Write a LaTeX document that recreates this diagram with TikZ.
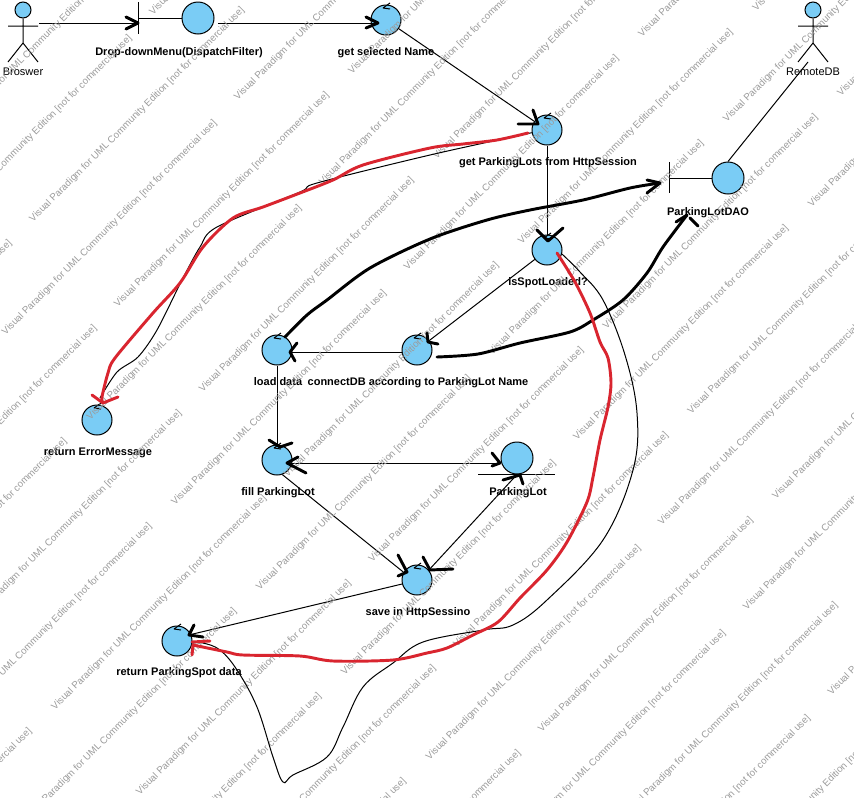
\documentclass[tikz,border=0pt]{standalone}
\usepackage{fontspec}
\setmainfont{Liberation Sans}
\definecolor{vpblue}{RGB}{122,204,245}
\definecolor{vpred}{RGB}{217,37,47}
\definecolor{vpgray}{RGB}{155,155,155}
\tikzset{
  ctrlnode/.style={circle,draw,fill=vpblue,minimum size=22.5pt,inner sep=0pt,line width=0.75pt},
  bndnode/.style={circle,draw,fill=vpblue,minimum size=24pt,inner sep=0pt,line width=0.75pt},
  headnode/.style={circle,draw,fill=vpblue,minimum size=12pt,inner sep=0pt,line width=0.75pt},
  boldtxt/.style={anchor=base,inner sep=0.75pt,font=\fontsize{8.25}{10}\selectfont\bfseries},
  plaintxt/.style={anchor=base,inner sep=0.75pt,font=\fontsize{8.25}{10}\selectfont},
  marktxt/.style={anchor=base west,inner sep=0pt,rotate=45,text=vpgray,font=\fontsize{7.3}{9}\selectfont},
  thinline/.style={line width=0.75pt},
  penblack/.style={line width=2.2pt,line cap=round,line join=round},
  penred/.style={line width=2.2pt,line cap=round,line join=round,draw=vpred},
}
\begin{document}
\begin{tikzpicture}[x=0.75pt,y=0.75pt,yscale=-1,xscale=1]
\useasboundingbox (0,0) rectangle (854,797);
\clip (0,0) rectangle (854,797);

%Shape: Actor Broswer
\node[headnode] (brohead) at (23,10) {};
\draw[thinline] (brohead) -- (23,43) -- (8,62) (23,43) -- (38,62) (8,26) -- (38,26);
% Text Node
\node[plaintxt] (brotxt) at (23,75) {Broswer};
%Shape: Actor RemoteDB
\node[headnode] (dbhead) at (813,10) {};
\draw[thinline] (dbhead) -- (813,43) -- (798,62) (813,43) -- (828,62) (798,26) -- (828,26);
% Text Node
\node[plaintxt] (dbtxt) at (813,75) {RemoteDB};

%Shape: Boundary DispatchFilter
\node[bndnode] (drop) at (198,18) {};
\draw[thinline] (138,2) -- (138,34) (138,18) -- (drop);
%Shape: Boundary ParkingLotDAO
\node[bndnode] (dao) at (728,178) {};
\draw[thinline] (669,162) -- (669,193) (669,178) -- (dao);
%Shape: Entity ParkingLot
\node[bndnode] (lot) at (517,458) {};
\draw[thinline] (478,474) -- (555,474);

%Shape: Control nodes
\node[ctrlnode] (getname) at (386,20) {};
\node[ctrlnode] (getlots) at (547,130) {};
\node[ctrlnode] (isspot) at (547,250) {};
\node[ctrlnode] (load) at (277,350) {};
\node[ctrlnode] (conn) at (417,350) {};
\node[ctrlnode] (fill) at (277,460) {};
\node[ctrlnode] (save) at (417,580) {};
\node[ctrlnode] (retspot) at (177,641) {};
\node[ctrlnode] (reterr) at (97,420) {};
\foreach \n in {getname,getlots,isspot,load,conn,fill,save,retspot,reterr}
  \draw[thinline] ([shift={(-3,-12)}]\n.center) -- ++(7,-5) ([shift={(-3,-12)}]\n.center) -- ++(7,1);

% Text Node
\node[boldtxt] (droptxt) at (179,55) {Drop-downMenu(DispatchFilter)};
\node[boldtxt] (getnametxt) at (386,55) {get selected Name};
\node[boldtxt] (getlotstxt) at (548,165) {get ParkingLots from HttpSession};
\node[boldtxt] (daotxt) at (708,215) {ParkingLotDAO};
\node[boldtxt] (isspottxt) at (548,285) {isSpotLoaded?};
\node[boldtxt] (loadtxt) at (278,385) {load data};
\node[boldtxt] (conntxt) at (418,385) {connectDB according to ParkingLot Name};
\node[boldtxt] (filltxt) at (278,495) {fill ParkingLot};
\node[boldtxt] (lottxt) at (518,495) {ParkingLot};
\node[boldtxt] (savetxt) at (418,615) {save in HttpSessino};
\node[boldtxt] (retspottxt) at (179,675) {return ParkingSpot data};
\node[boldtxt] (reterrtxt) at (98,455) {return ErrorMessage};

%Connectors
\coordinate (broout) at (39,23);
\coordinate (dropin) at (138,23);
\coordinate (dropout) at (218,23);
\coordinate (getnamein) at (378,23);
\coordinate (dbfoot) at (808,62);
\coordinate (fillout) at (287,463);
\coordinate (lotin) at (499,463);
\draw[thinline] (broout) -- (dropin);
\draw[thinline] (dropout) -- (getnamein);
\draw[thinline] (getname) -- (getlots);
\draw[thinline] (getlots) -- (isspot);
\draw[thinline] (isspot) -- (conn);
\draw[thinline] (conn.188) -- (load.-8);
\draw[thinline] (load) -- (fill);
\draw[thinline] (fillout) -- (lotin);
\draw[thinline] (fill.-70) -- (save.150);
\draw[thinline] (save.40) -- (lot.south);
\draw[thinline] (save.195) -- (retspot.25);
\draw[thinline] (dao.north) -- (dbfoot);

%Watermark
\foreach \wx/\wy/\kmin/\kmax [count=\r] in {148/13/0/8,28/220/-1/8,347/72/0/5,637/35/0/2,836/94/-1/0,170/503/-3/5,50/708/-3/3,-319/481/2/6,-439/686/3/3}
  \foreach \k in {\kmin,...,\kmax}
    \node[marktxt] (wm\r-\k) at ({\wx+5+(\k)*84.8},{\wy+2.5+(\k)*85}) {Visual Paradigm for UML Community Edition [not for commercial use]};

%Pen: thin curves
\draw[thinline] plot [smooth,tension=0.5] coordinates {(getlots.190) (430,155) (317,183) (300,192) (217,227) (200,247) (182,280) (157,330) (138,357) (117,372) (100,398)};
\draw[thinline] plot [smooth,tension=0.6] coordinates {(isspot.-15) (580,272) (603,300) (625,355) (637,413) (633,470) (603,540) (547,600) (513,625) (483,630) (423,642) (393,663) (363,687) (343,727) (327,757) (293,775) (283,782) (273,757) (257,707) (237,670) (220,650) (203,643) (retspot.-8)};

%Pen: black arrows
\draw[penblack] plot [smooth,tension=0.5] coordinates {(285,337) (307,315) (327,300) (370,268) (430,239) (487,220) (530,210) (583,200) (630,188) (660,183)};
\draw[penblack] (647,180) -- (660,183) -- (647,193);
\draw[penblack] plot [smooth,tension=0.5] coordinates {(437,357) (478,354) (520,343) (570,332) (593,320) (623,300) (647,273) (663,247) (687,215)};
\draw[penblack] (676,222) -- (687,215) (690,218) -- (698,226);
\draw[penblack] (126,17) -- (138,23) -- (126,29);
\draw[penblack] (366,17) -- (378,23) -- (366,28);
\draw[penblack] (533,110) -- (538,124) -- (518,124);
\draw[penblack] (537,230) -- (548,241) -- (563,228);
\draw[penblack] (427,333) -- (428,342) -- (438,344);
\draw[penblack] (297,343) -- (290,352) -- (295,361);
\draw[penblack] (269,440) -- (280,447) -- (292,443);
\draw[penblack] (298,457) -- (287,463) -- (306,473);
\draw[penblack] (492,453) -- (500,463) -- (492,466);
\draw[penblack] (398,555) -- (407,572) -- (398,576);
\draw[penblack] (423,557) -- (430,570) -- (453,569);
\draw[penblack] (503,480) -- (520,475) -- (523,484);
\draw[penblack] (194,625) -- (189,635) -- (203,637);

%Pen: red arrows
\draw[penred] plot [smooth,tension=0.5] coordinates {(528,133) (497,140) (463,144) (430,148) (363,165) (333,180) (300,193) (263,207) (233,218) (203,247) (180,283) (153,313) (115,358) (108,373) (102,397) (103,403)};
\draw[penred] (92,395) -- (103,403) -- (118,397);
\draw[penred] plot [smooth,tension=0.5] coordinates {(557,253) (575,282) (590,313) (600,342) (608,358) (611,383) (608,407) (600,440) (593,477) (587,502) (567,542) (547,570) (520,598) (498,622) (473,635) (447,648) (427,653) (393,660) (333,661) (300,656) (243,655) (227,652) (193,645)};
\draw[penred] (192,655) -- (193,645) (192,642) -- (210,641);

\end{tikzpicture}
\end{document}
